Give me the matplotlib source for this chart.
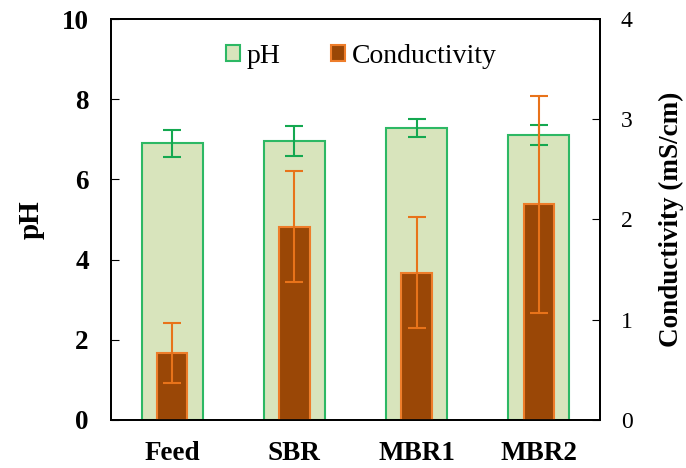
import numpy as np
import matplotlib.pyplot as plt

plt.rcParams['font.family'] = ['Liberation Serif', 'DejaVu Serif']

categories = ["Feed", "SBR", "MBR1", "MBR2"]
ph = [6.90, 6.96, 7.28, 7.11]
ph_err = [0.34, 0.37, 0.23, 0.25]
cond = [0.67, 1.93, 1.47, 2.15]
cond_err = [0.30, 0.55, 0.55, 1.08]

x = np.arange(len(categories))

fig = plt.figure(figsize=(6.86, 4.68), dpi=100)
ax = fig.add_axes([0.1618, 0.1026, 0.7128, 0.8568])
ax2 = ax.twinx()

b1 = ax.bar(x, ph, width=0.5, color='#d8e4bc', edgecolor='#2db864', linewidth=1.5,
            label='pH')
ax.errorbar(x, ph, yerr=ph_err, fmt='none', ecolor='#14a850', elinewidth=1.5,
            capsize=6.5, capthick=1.5)

b2 = ax2.bar(x, cond, width=0.25, color='#9a4706', edgecolor='#ee7d2a', linewidth=1.5,
             label='Conductivity')
ax2.errorbar(x, cond, yerr=cond_err, fmt='none', ecolor='#e8731a', elinewidth=1.5,
             capsize=6.5, capthick=1.5)

ax.set_xlim(-0.5, 3.5)
ax.set_ylim(0, 10)
ax2.set_ylim(0, 4)
ax.set_yticks(np.arange(0, 11, 2))
ax2.set_yticks(np.arange(0, 5, 1))
ax.set_xticks(x)
ax.set_xticklabels(categories, fontsize=19.5, fontweight='bold')

for lab in ax.get_yticklabels():
    lab.set_fontweight('bold')
ax.tick_params(axis='y', direction='in', length=6, labelsize=19.5, pad=16)
ax.tick_params(axis='x', length=0, pad=15)
ax2.tick_params(axis='y', direction='in', length=6, labelsize=17, pad=15)

ax.set_ylabel('pH', fontsize=21, fontweight='bold', labelpad=12)
ax2.set_ylabel('Conductivity (mS/cm)', fontsize=19.5, fontweight='bold', labelpad=19)

for a in (ax, ax2):
    for s in a.spines.values():
        s.set_linewidth(1.3)

ax2.legend([b1, b2], ['pH', 'Conductivity'], loc='upper center',
           bbox_to_anchor=(0.512, 1.0), ncol=2, frameon=False, fontsize=20,
           handlelength=0.5, handleheight=0.5, handletextpad=0.25, columnspacing=1.8)

fig.savefig('out.png', dpi=100)
